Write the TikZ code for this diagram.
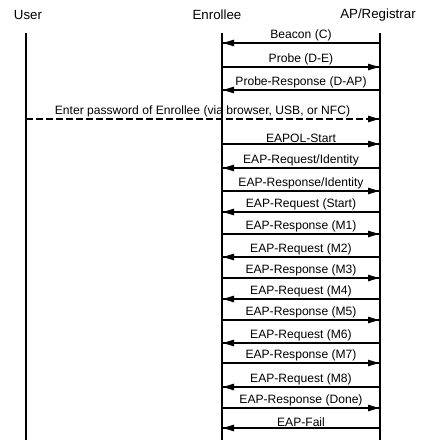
\documentclass[tikz,border=0pt]{standalone}
\usepackage{fontspec}
\setmainfont{Liberation Sans}

% filled arrow heads, drawn by hand at a lifeline point
\newcommand{\tipright}[1]{\fill #1 -- ++(-11,3.4) -- ++(0,-6.8) -- cycle;}
\newcommand{\tipleft}[1]{\fill #1 -- ++(11,3.4) -- ++(0,-6.8) -- cycle;}

\begin{document}
\begin{tikzpicture}[x=1pt, y=1pt]
\tikzset{
  lifeline/.style={line width=2.4pt},
  msg/.style={line width=1.1pt},
  lbl/.style={font=\fontsize{12.1}{14}\selectfont, inner sep=1pt, above=0pt},
  head/.style={font=\fontsize{13.3}{16}\selectfont},
}

\useasboundingbox (0,0) rectangle (422,-440);

% participants
\node [head] (U) at (28,-15)  {User};
\node [head] (E) at (217,-15) {Enrollee};
\node [head] (A) at (378,-15) {AP/Registrar};

\coordinate (Utop) at (26,-33);  \coordinate (Ubot) at (26,-440);
\coordinate (Etop) at (222,-33); \coordinate (Ebot) at (222,-440);
\coordinate (Atop) at (380,-33); \coordinate (Abot) at (380,-440);

% message ends, just inside the lifelines
\foreach \n/\y in {1/43, 2/67, 3/90, 4/119, 5/144, 6/168, 7/191, 8/212, 9/234,
                   10/257, 11/278, 12/299, 13/320, 14/343, 15/363, 16/387, 17/408, 18/428}
{
  \coordinate (U\n) at (26,-\y);
  \coordinate (E\n) at (223,-\y);
  \coordinate (A\n) at (379,-\y);
}

\draw [msg] (E1) -- node [lbl] (m1) {Beacon (C)} (A1);              \tipleft{(E1)}
\draw [msg] (E2) -- node [lbl] (m2) {Probe (D-E)} (A2);             \tipright{(A2)}
\draw [msg] (E3) -- node [lbl] (m3) {Probe-Response (D-AP)} (A3);   \tipleft{(E3)}

\draw [msg, dash pattern=on 6.5pt off 3.5pt] (U4) -- node [lbl] (m4) {Enter password of Enrollee (via browser, USB, or NFC)} (A4);
\tipright{(A4)}

\draw [msg] (E5) -- node [lbl] (m5) {EAPOL-Start} (A5);             \tipright{(A5)}
\draw [msg] (E6) -- node [lbl] (m6) {EAP-Request/Identity} (A6);    \tipleft{(E6)}
\draw [msg] (E7) -- node [lbl] (m7) {EAP-Response/Identity} (A7);   \tipright{(A7)}
\draw [msg] (E8) -- node [lbl] (m8) {EAP-Request (Start)} (A8);     \tipleft{(E8)}
\draw [msg] (E9) -- node [lbl] (m9) {EAP-Response (M1)} (A9);       \tipright{(A9)}
\draw [msg] (E10) -- node [lbl] (m10) {EAP-Request (M2)} (A10);     \tipleft{(E10)}
\draw [msg] (E11) -- node [lbl] (m11) {EAP-Response (M3)} (A11);    \tipright{(A11)}
\draw [msg] (E12) -- node [lbl] (m12) {EAP-Request (M4)} (A12);     \tipleft{(E12)}
\draw [msg] (E13) -- node [lbl] (m13) {EAP-Response (M5)} (A13);    \tipright{(A13)}
\draw [msg] (E14) -- node [lbl] (m14) {EAP-Request (M6)} (A14);     \tipleft{(E14)}
\draw [msg] (E15) -- node [lbl] (m15) {EAP-Response (M7)} (A15);    \tipright{(A15)}
\draw [msg] (E16) -- node [lbl] (m16) {EAP-Request (M8)} (A16);     \tipleft{(E16)}
\draw [msg] (E17) -- node [lbl] (m17) {EAP-Response (Done)} (A17);  \tipright{(A17)}
\draw [msg] (E18) -- node [lbl] (m18) {EAP-Fail} (A18);             \tipleft{(E18)}

% lifelines
\draw [lifeline] (Utop) -- (Ubot);
\draw [lifeline] (Etop) -- (Ebot);
\draw [lifeline] (Atop) -- (Abot);

\end{tikzpicture}
\end{document}
